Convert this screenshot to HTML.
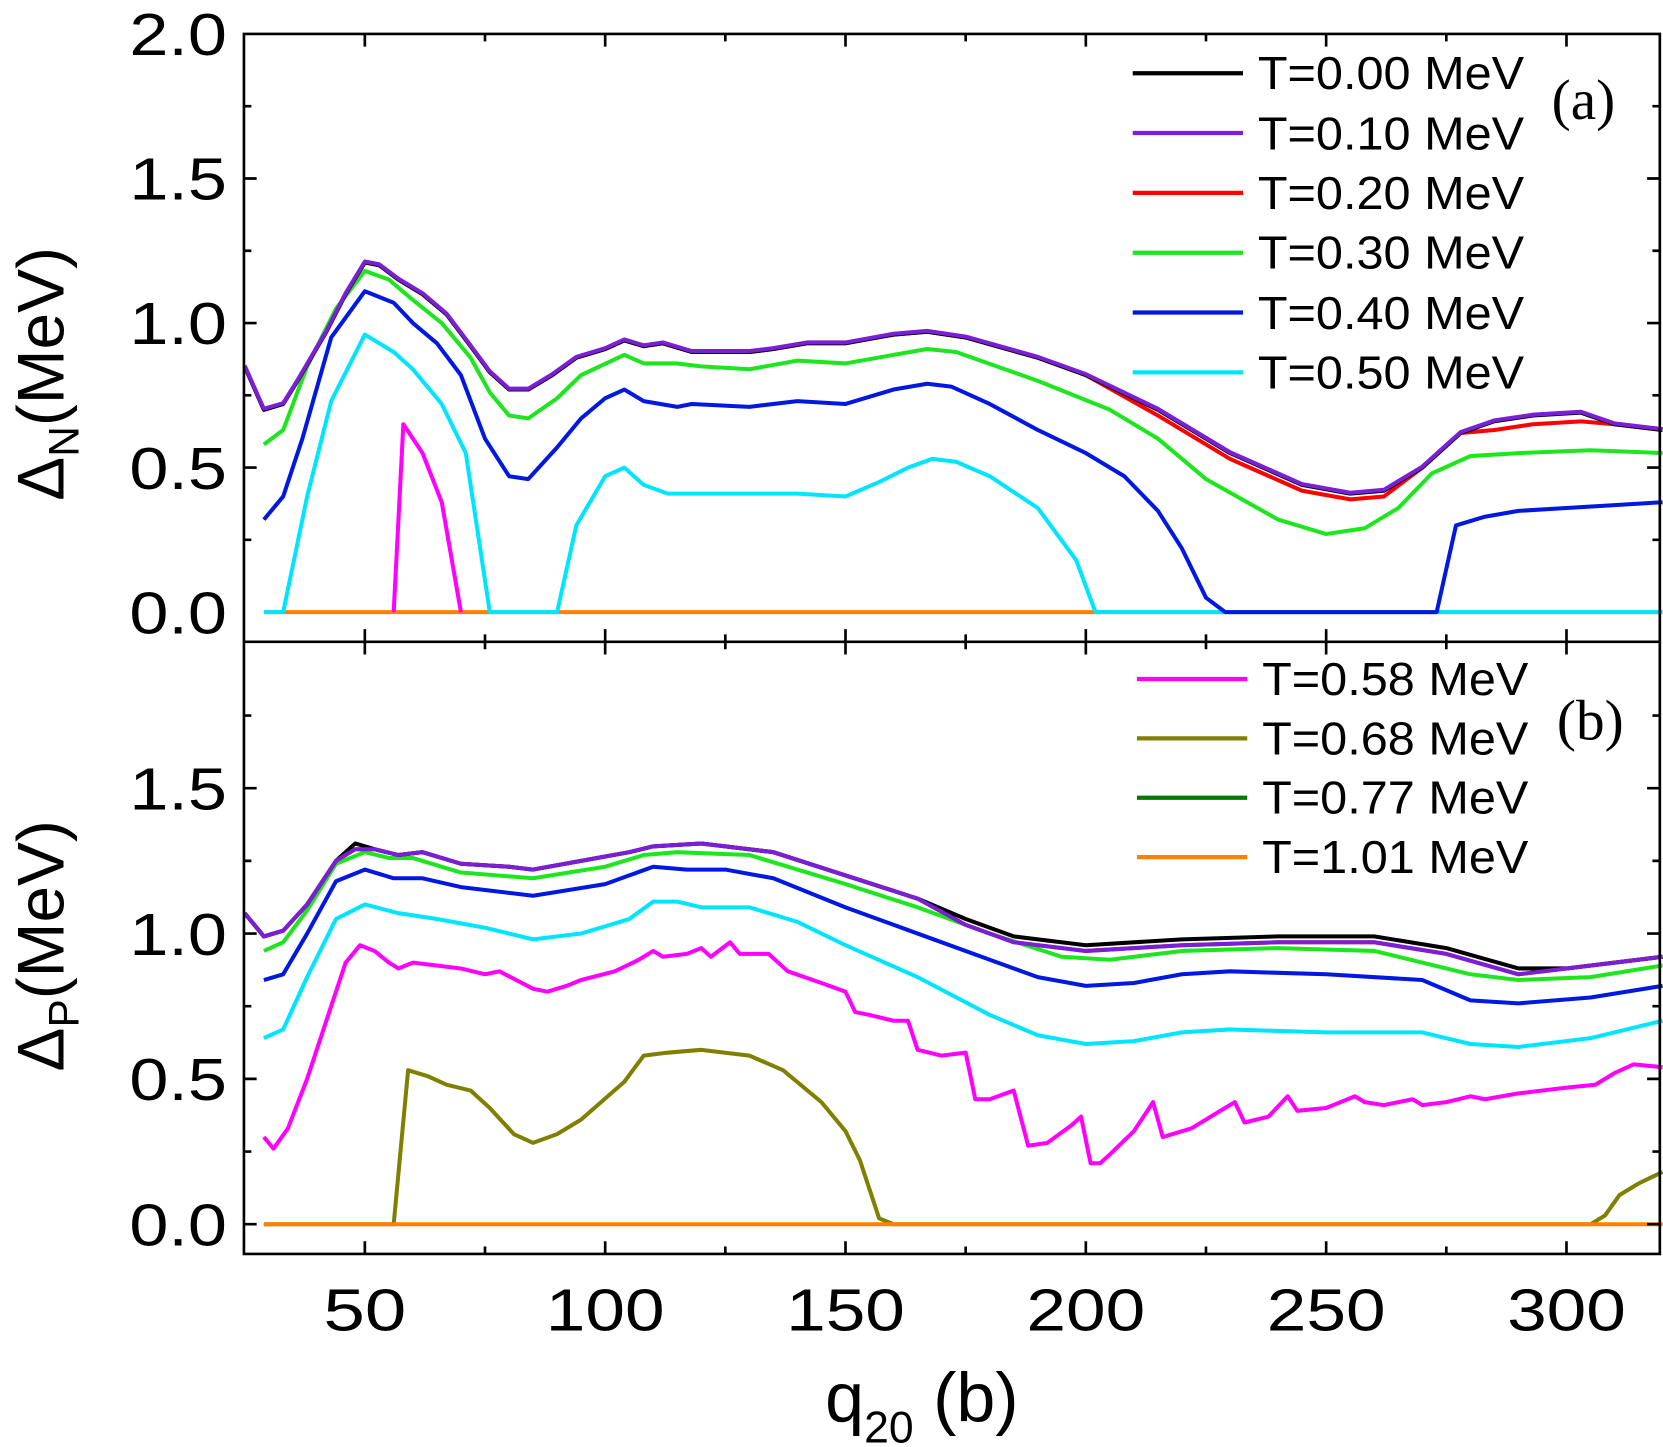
<!DOCTYPE html>
<html><head><meta charset="utf-8"><style>
html,body{margin:0;padding:0;background:#fff;}
svg{display:block;}
text{font-family:"Liberation Sans",sans-serif;}
</style></head><body>
<svg id="s" width="1663" height="1447" viewBox="0 0 1568 1364" preserveAspectRatio="none" xmlns="http://www.w3.org/2000/svg">
<rect x="0" y="0" width="1568" height="1364" fill="#fff"/>
<g id="curves" fill="none" stroke-width="3.8" stroke-linejoin="round"></g>
<g id="axes" stroke="#000" stroke-width="2.5" fill="none"></g>
<g id="labels" font-size="56" fill="#000"></g>
<g font-size="44">
<text x="1186" y="84" textLength="251" lengthAdjust="spacingAndGlyphs">T=0.00 MeV</text>
<text x="1186" y="141" textLength="251" lengthAdjust="spacingAndGlyphs">T=0.10 MeV</text>
<text x="1186" y="197" textLength="251" lengthAdjust="spacingAndGlyphs">T=0.20 MeV</text>
<text x="1186" y="253" textLength="251" lengthAdjust="spacingAndGlyphs">T=0.30 MeV</text>
<text x="1186" y="310" textLength="251" lengthAdjust="spacingAndGlyphs">T=0.40 MeV</text>
<text x="1186" y="366" textLength="251" lengthAdjust="spacingAndGlyphs">T=0.50 MeV</text>
<text x="1190" y="655" textLength="251" lengthAdjust="spacingAndGlyphs">T=0.58 MeV</text>
<text x="1190" y="711" textLength="251" lengthAdjust="spacingAndGlyphs">T=0.68 MeV</text>
<text x="1190" y="767" textLength="251" lengthAdjust="spacingAndGlyphs">T=0.77 MeV</text>
<text x="1190" y="823" textLength="251" lengthAdjust="spacingAndGlyphs">T=1.01 MeV</text>
</g>
<text x="1463" y="112" font-size="54" style="font-family:'Liberation Serif',serif">(a)</text>
<text x="1468" y="697" font-size="54" style="font-family:'Liberation Serif',serif">(b)</text>
<text x="778" y="1340" font-size="66">q<tspan font-size="42" dy="20">20</tspan><tspan dy="-20"> (b)</tspan></text>
<text transform="translate(60,472) rotate(-90)" font-size="62">Δ<tspan font-size="40" dy="14">N</tspan><tspan dy="-14">(MeV)</tspan></text>
<text transform="translate(60,1010) rotate(-90)" font-size="62">Δ<tspan font-size="40" dy="14">P</tspan><tspan dy="-14">(MeV)</tspan></text>
</svg>
<script>
var NS="http://www.w3.org/2000/svg";
function X(q){return 344+(q-50)*4.532;}
function YT(v){return 577-v*272.5;}
function YB(v){return 1154-v*274;}
function line(pts,Y,col,w){var d="";pts.forEach(function(p,i){d+=(i?"L":"M")+X(p[0]).toFixed(1)+","+Y(p[1]).toFixed(1);});
var e=document.createElementNS(NS,"path");e.setAttribute("d",d);e.setAttribute("stroke",col);if(w)e.setAttribute("stroke-width",w);document.getElementById("curves").appendChild(e);}
function shift(pts,dv){return pts.map(function(p){return [p[0],p[1]+dv];});}
var top0=[[25,0.85],[29,0.70],[33,0.72],[36,0.80],[42,0.97],[46,1.10],[50,1.21],[53,1.20],[57,1.15],[62,1.10],[67,1.03],[72,0.92],[76,0.83],[80,0.77],[84,0.77],[89,0.82],[94,0.88],[100,0.91],[104,0.94],[108,0.92],[112,0.93],[118,0.90],[125,0.90],[130,0.90],[135,0.91],[142,0.93],[150,0.93],[160,0.96],[167,0.97],[175,0.95],[190,0.88],[200,0.82],[215,0.70],[230,0.55],[245,0.44],[255,0.41],[262,0.42],[270,0.50],[278,0.62],[285,0.66],[293,0.68],[303,0.69],[310,0.65],[320,0.63]];
var topR=top0.map(function(p){var v=p[1];if(p[0]>=215&&p[0]<=265)v-=0.02;if(p[0]>=285&&p[0]<=305)v-=0.03;return [p[0],v];});
var gT=[[29,0.58],[33,0.63],[38,0.85],[44,1.05],[50,1.18],[55,1.15],[60,1.08],[66,1.00],[72,0.88],[76,0.76],[80,0.68],[84,0.67],[90,0.74],[95,0.82],[104,0.89],[108,0.86],[115,0.86],[120,0.85],[130,0.84],[140,0.87],[150,0.86],[160,0.89],[167,0.91],[173,0.90],[190,0.80],[205,0.70],[215,0.60],[225,0.46],[240,0.32],[250,0.27],[258,0.29],[265,0.36],[272,0.48],[280,0.54],[290,0.55],[305,0.56],[320,0.55]];
var bT=[[29,0.32],[33,0.40],[37,0.60],[43,0.95],[50,1.11],[56,1.07],[60,1.00],[65,0.93],[70,0.82],[75,0.60],[80,0.47],[84,0.46],[90,0.57],[95,0.67],[100,0.74],[104,0.77],[108,0.73],[115,0.71],[118,0.72],[130,0.71],[140,0.73],[150,0.72],[160,0.77],[167,0.79],[172,0.78],[180,0.72],[190,0.63],[200,0.55],[208,0.47],[215,0.35],[220,0.22],[225,0.05],[229,0.0],[273,0.0],[277,0.30],[283,0.33],[290,0.35],[300,0.36],[320,0.38]];
var cT=[[29,0],[33,0],[38,0.40],[43,0.73],[50,0.96],[56,0.90],[60,0.84],[66,0.72],[71,0.55],[76,0],[90,0],[94,0.30],[100,0.47],[104,0.50],[108,0.44],[113,0.41],[120,0.41],[130,0.41],[140,0.41],[150,0.40],[157,0.45],[163,0.50],[168,0.53],[173,0.52],[180,0.47],[190,0.36],[198,0.18],[202,0.0],[320,0]];
var mT=[[56,0],[58,0.65],[62,0.55],[66,0.38],[70,0]];
var base=[[29,0],[320,0]];
line(base,YT,"#ff8000");
line(mT,YT,"#ff00ff");
line(cT,YT,"#00e5ff");
line(bT,YT,"#0018e0");
line(gT,YT,"#1ee61e");
line(topR,YT,"#ff0000");
line(top0,YT,"#000000");
line(shift(top0,0.003),YT,"#7a1fd6");
var p0=[[25,1.07],[29,0.99],[33,1.01],[38,1.10],[44,1.25],[48,1.31],[52,1.29],[57,1.27],[62,1.28],[70,1.24],[80,1.23],[85,1.22],[95,1.25],[105,1.28],[110,1.30],[120,1.31],[125,1.30],[135,1.28],[150,1.20],[165,1.12],[175,1.05],[185,0.99],[200,0.96],[220,0.98],[240,0.99],[260,0.99],[275,0.95],[290,0.88],[300,0.88],[320,0.92]];
var pP=p0.map(function(p){var v=p[1];if(p[0]>=46&&p[0]<=50)v=1.29;if(p[0]>=175&&p[0]<=290)v-=0.02;return [p[0],v];});
var gB=[[29,0.94],[33,0.97],[38,1.08],[44,1.24],[50,1.28],[55,1.26],[60,1.26],[70,1.21],[85,1.19],[100,1.23],[108,1.27],[115,1.28],[130,1.27],[150,1.17],[165,1.09],[180,1.00],[195,0.92],[205,0.91],[220,0.94],[240,0.95],[260,0.94],[280,0.86],[290,0.84],[305,0.85],[320,0.89]];
var bB=[[29,0.84],[33,0.86],[38,1.00],[44,1.18],[50,1.22],[56,1.19],[62,1.19],[70,1.16],[85,1.13],[100,1.17],[105,1.20],[110,1.23],[117,1.22],[125,1.22],[135,1.19],[150,1.09],[165,1.00],[180,0.91],[190,0.85],[200,0.82],[210,0.83],[220,0.86],[230,0.87],[250,0.86],[270,0.84],[280,0.77],[290,0.76],[305,0.78],[320,0.82]];
var cB=[[29,0.64],[33,0.67],[38,0.85],[44,1.05],[50,1.10],[57,1.07],[65,1.05],[75,1.02],[85,0.98],[95,1.00],[105,1.05],[110,1.11],[115,1.11],[120,1.09],[130,1.09],[140,1.04],[150,0.96],[165,0.85],[180,0.72],[190,0.65],[200,0.62],[210,0.63],[220,0.66],[230,0.67],[250,0.66],[270,0.66],[280,0.62],[290,0.61],[305,0.64],[320,0.70]];
var mB=[[29,0.30],[31,0.26],[34,0.33],[38,0.50],[42,0.70],[46,0.90],[49,0.96],[52,0.94],[55,0.90],[57,0.88],[60,0.90],[70,0.88],[75,0.86],[78,0.87],[85,0.81],[88,0.80],[92,0.82],[95,0.84],[102,0.87],[107,0.91],[110,0.94],[112,0.92],[117,0.93],[120,0.95],[122,0.92],[126,0.97],[128,0.93],[134,0.93],[138,0.87],[145,0.83],[150,0.80],[152,0.73],[155,0.72],[160,0.70],[163,0.70],[165,0.60],[170,0.58],[175,0.59],[177,0.43],[180,0.43],[185,0.46],[188,0.27],[192,0.28],[197,0.34],[199,0.37],[201,0.21],[203,0.21],[205,0.24],[210,0.32],[214,0.42],[216,0.30],[222,0.33],[226,0.37],[231,0.42],[233,0.35],[238,0.37],[242,0.44],[244,0.39],[250,0.40],[256,0.44],[258,0.42],[262,0.41],[268,0.43],[270,0.41],[275,0.42],[280,0.44],[283,0.43],[290,0.45],[300,0.47],[306,0.48],[310,0.52],[314,0.55],[320,0.54]];
var oB=[[29,0],[56,0],[59,0.53],[63,0.51],[67,0.48],[72,0.46],[76,0.40],[81,0.31],[85,0.28],[90,0.31],[95,0.36],[104,0.49],[108,0.58],[113,0.59],[120,0.60],[130,0.58],[137,0.53],[145,0.42],[150,0.32],[153,0.22],[157,0.02],[160,0],[305,0],[308,0.03],[311,0.10],[315,0.14],[320,0.18]];
line(oB,YB,"#808000");
line(base,YB,"#ff8000");
line(mB,YB,"#ff00ff");
line(cB,YB,"#00e5ff");
line(bB,YB,"#0018e0");
line(gB,YB,"#1ee61e");
line(pP,YB,"#ff0000");
line(p0,YB,"#000000");
line(pP,YB,"#7a1fd6");
var lc=["#000","#7a1fd6","#ff0000","#1ee61e","#0018e0","#00e5ff"];
lc.forEach(function(c,i){var y=69+i*56.4;var e=document.createElementNS(NS,"path");e.setAttribute("d","M1068,"+y+"H1172");e.setAttribute("stroke",c);e.setAttribute("stroke-width","4");document.getElementById("curves").appendChild(e);});
["#ff00ff","#808000","#007a00","#ff8000"].forEach(function(c,i){var y=640+i*56;var e=document.createElementNS(NS,"path");e.setAttribute("d","M1072,"+y+"H1176");e.setAttribute("stroke",c);e.setAttribute("stroke-width","4");document.getElementById("curves").appendChild(e);});
var ax=document.getElementById("axes"),d="M230,32H1565V1182H230Z M230,605H1565";
for(var q=50;q<=300;q+=25){var x=X(q),L=(q%50==0)?12:7;
d+="M"+x+",1182v-"+L+"M"+x+",605v-"+L+"M"+x+",605v"+L+"M"+x+",32v"+L;}
for(var v=0;v<=2;v+=0.25){var L=(Math.abs(v*2-Math.round(v*2))<1e-6)?12:7;var y=YT(v);if(v>0&&v<2){d+="M230,"+y+"h"+L+"M1565,"+y+"h-"+L;}
var yb=YB(v);if(v<2){d+="M230,"+yb+"h"+L+"M1565,"+yb+"h-"+L;}}
var pe=document.createElementNS(NS,"path");pe.setAttribute("d",d);ax.appendChild(pe);
var lb=document.getElementById("labels");
function T(x,y,s,a,w){var t=document.createElementNS(NS,"text");t.setAttribute("x",x);t.setAttribute("y",y);t.setAttribute("text-anchor",a);t.setAttribute("textLength",w);t.setAttribute("lengthAdjust","spacingAndGlyphs");t.textContent=s;lb.appendChild(t);}
["0.0","0.5","1.0","1.5","2.0"].forEach(function(s,i){T(214,YT(i*0.5)+20,s,"end",92);});
["0.0","0.5","1.0","1.5"].forEach(function(s,i){T(214,YB(i*0.5)+20,s,"end",92);});
[50,100,150,200,250,300].forEach(function(q){T(X(q),1254,""+q,"middle",q<100?78:112);});
</script>
</body></html>
